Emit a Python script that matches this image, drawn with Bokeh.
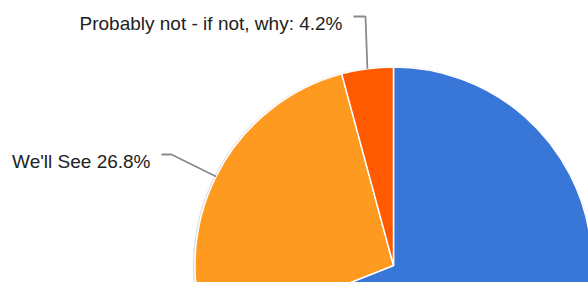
import math
from bokeh.plotting import figure
from bokeh.models import Range1d
from bokeh.core.properties import value
from bokeh.embed import file_html
from bokeh.resources import INLINE

# ---- data ----
categories = ["Yes", "We'll See", "Probably not - if not, why:"]
shares = [69.0, 26.8, 4.2]
colors = ["#3876d8", "#fe9a1f", "#ff5a00"]
show_label = [False, True, True]

W, H = 588, 282
p = figure(width=W, height=H, output_backend="svg", toolbar_location=None,
           x_range=Range1d(0, W), y_range=Range1d(0, H), min_border=0)
p.axis.visible = False
p.grid.visible = False
p.outline_line_color = None
p.background_fill_color = "white"
p.border_fill_color = "white"

cx, cy, r = 393.0, 17.0, 198.5

# shadow
p.circle(x=[cx - 0.6], y=[cy - 0.8], radius=r + 1.6, fill_color="#cccccc",
         fill_alpha=0.6, line_color=None)

# wedges: first slice goes clockwise from 12 o'clock
total = sum(shares)
starts, ends = [], []
a = 90.0
for s in shares:
    sweep = s / total * 360.0
    starts.append(a - sweep)
    ends.append(a)
    a -= sweep

for i, s in enumerate(shares):
    p.wedge(x=cx, y=cy, radius=r,
            start_angle=math.radians(starts[i]), end_angle=math.radians(ends[i]),
            fill_color=colors[i], line_color="white", line_width=1.5)

# labels with leader lines: (text right x, baseline y, gap, horizontal segment)
label_pos = {1: (150, 121, 11, 10), 2: (342, 259, 11, 12)}
for i, s in enumerate(shares):
    if not show_label[i]:
        continue
    mid = math.radians((starts[i] + ends[i]) / 2.0 % 360)
    ex, ey = cx + r * math.cos(mid), cy + r * math.sin(mid)
    tx, ty, gap, seg = label_pos[i]
    ly = ty + 7
    x0 = tx + gap
    p.line(x=[x0, x0 + seg, ex], y=[ly, ly, ey], line_color="#8a8a8a", line_width=1.8)
    txt = f"{categories[i]} {s:.1f}%"
    p.text(x=[tx], y=[ty], text=[txt], text_align="right", text_baseline="alphabetic",
           text_font=value("Liberation Sans"), text_font_size="19px", text_color="#222222")

open("out.html", "w").write(file_html(p, INLINE))
